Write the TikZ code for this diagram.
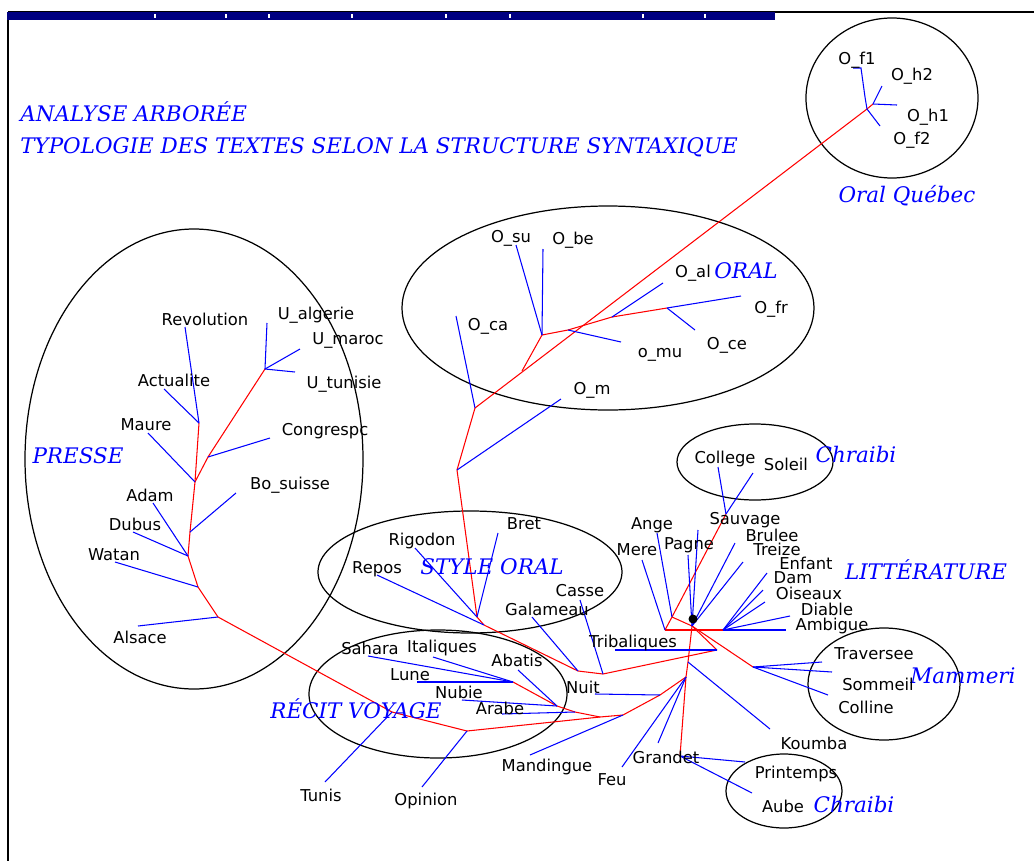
\documentclass[tikz,border=0pt]{standalone}
\usepackage{fontspec}
\setmainfont{DejaVu Sans}
\newfontfamily\grpfont{DejaVu Serif}
\definecolor{barblue}{RGB}{0,0,128}

\begin{document}
\begin{tikzpicture}[x=0.2mm,y=-0.2mm,
  lbl/.style={font=\fontsize{9.3}{11}\selectfont,inner sep=0pt},
  grp/.style={font=\grpfont\itshape\fontsize{12.2}{14}\selectfont,text=blue,inner sep=0pt},
  leaf/.style={blue,line width=0.6pt},
  trunk/.style={red,line width=0.6pt},
  zone/.style={black,line width=0.7pt}]
\useasboundingbox (0,0) rectangle (1034,861);

% frame and title bar
\draw[line width=1.2pt] (8,861) -- (8,12);
\draw[line width=0.8pt] (8,12) -- (1034,12);
\fill[barblue] (7,12) rectangle (775,20);
\foreach \t in {155,226,269,352,446,510,643,705}
  \draw[white,line width=0.8pt] (\t,14) -- (\t,18);

% groups
\draw[zone] (892,98) ellipse (86 and 80);
\draw[zone] (608,308) ellipse (206 and 102);
\draw[zone] (194,459) ellipse (169 and 230);
\draw[zone] (470,572) ellipse (152 and 61);
\draw[zone] (755,462) ellipse (78 and 38);
\draw[zone] (438,694) ellipse (129 and 64);
\draw[zone] (884,684) ellipse (76 and 56);
\draw[zone] (784,791) ellipse (58 and 37);

% inner points of the tree
\foreach \n/\x/\y in {qa/867/109, qb/873/104,
  oc/475/408, ox/522/371, os/542/335, om/568/330, oa/612/317, of/667/308, oo/457/470,
  so1/477/617, so2/484/625, sg/578/671, sc/603/674, tb/717/650,
  c1/726/514, ha/672/617, hm/665/630, hr/723/630, hc/692/626, mam/753/667,
  hk/688/662, hf/686/677, gr/680/756, nu/660/695, lm/623/715, rvj/600/717,
  ra/575/712, rv2/557/706, rv1/513/682, pv/553/722, op/467/731, tn/392/712,
  pa/218/617, pw/198/587, pd/188/556, pb/190/532, pm/195/482, pc/208/457,
  pu/265/369, pr/199/423}
  \coordinate (\n) at (\x,\y);

% leaf ends
\foreach \n/\x/\y in {ef1/853/68, eh2/882/86, eh1/897/105, ef2/880/126,
  eca/456/316, esu/516/245, ebe/543/249, emu/621/342, eal/663/283, efr/741/296,
  ece/695/330, em/561/399,
  ebr/498/533, erg/415/548, erp/377/575, ega/532/617, ecs/580/600, etr/615/650,
  ecl/718/467, eso/753/473, ean/657/533, eme/642/560, epa/688/555, esa/698/530,
  ebu/735/543, etz/743/562, een/767/573, eda/763/590, eoi/765/602, edi/790/616,
  eam/786/630, ett/822/662, esm/832/672, eco/828/695, eko/770/729, epr/745/762,
  eau/752/793, egr/658/743, efe/622/767, enu/595/694, ema/530/755,
  ear/502/714, enb/462/700, eab/518/670, esh/368/656, eit/433/657, elu/417/682,
  eop/422/787, etu/325/782,
  eas/138/626, ewa/115/562, ead/153/503, edu/133/532, ebo/236/493, emr/148/433,
  ecg/270/438, eug/267/323, eum/300/349, eut/295/372, erv/185/327, eac/164/389}
  \coordinate (\n) at (\x,\y);

% red branches
\foreach \a/\b in {qa/qb, qa/oc, os/ox, os/om, om/oa, oa/of, oc/oo, oo/so1,
  so1/so2, so2/sg, sg/sc, sc/tb, tb/hc, c1/ha, ha/hm, ha/hc, hm/hr, hc/mam,
  hc/hk, hk/hf, hf/gr, hf/nu, nu/lm, lm/rvj, rvj/ra, ra/rv2, rv2/rv1,
  rvj/pv, pv/op, op/tn, tn/pa, pa/pw, pw/pd, pd/pb, pb/pm, pm/pc, pc/pu, pm/pr}
  \draw[trunk] (\a) -- (\b);

% blue leaves
\draw[leaf] (qa) -- (865,97) -- (861,68) -- (ef1);
\foreach \a/\b in {qa/ef2, qb/eh2, qb/eh1,
  oc/eca, os/esu, os/ebe, om/emu, oa/eal, of/efr, of/ece, oo/em,
  so1/ebr, so1/erg, so2/erp, sg/ega, sc/ecs, tb/etr,
  c1/ecl, c1/eso, ha/ean, hm/eme, hc/epa, hc/esa, hc/ebu, hc/etz,
  hr/een, hr/eda, hr/eoi, hr/edi, hr/eam,
  mam/ett, mam/esm, mam/eco, hk/eko, gr/epr, gr/eau, hf/egr, hf/efe,
  nu/enu, lm/ema, ra/ear, rv2/enb, rv2/eab, rv1/esh, rv1/eit, rv1/elu,
  op/eop, tn/etu,
  pa/eas, pw/ewa, pd/ead, pd/edu, pb/ebo, pm/emr, pc/ecg, pu/eug, pu/eum,
  pu/eut, pr/erv, pr/eac}
  \draw[leaf] (\a) -- (\b);
\fill (693,619) circle (4.5);

% titles
\node[grp,anchor=west] (title1) at (20,112) {ANALYSE ARBORÉE};
\node[grp,anchor=west] (title2) at (20,147) {TYPOLOGIE DES TEXTES SELON LA STRUCTURE SYNTAXIQUE};

% group names
\node[grp] (quebec) at (907,196) {Oral Québec};
\node[grp] (oral) at (746,271) {ORAL};
\node[grp] (presse) at (78,456) {PRESSE};
\node[grp] (styleoral) at (492,567) {STYLE ORAL};
\node[grp] (recit) at (356,709) {RÉCIT VOYAGE};
\node[grp] (litt) at (926,570) {LITTÉRATURE};
\node[grp] (chraibi1) at (856,455) {Chraibi};
\node[grp] (mammeri) at (963,676) {Mammeri};
\node[grp] (chraibi2) at (854,804) {Chraibi};

% texts
\node[lbl] (Of1) at (857,60) {O\_f1};
\node[lbl] (Oh2) at (912,76) {O\_h2};
\node[lbl] (Oh1) at (928,117) {O\_h1};
\node[lbl] (Of2) at (912,140) {O\_f2};
\node[lbl] (Osu) at (511,238) {O\_su};
\node[lbl] (Obe) at (573,240) {O\_be};
\node[lbl] (Oal) at (693,273) {O\_al};
\node[lbl] (Ofr) at (771,309) {O\_fr};
\node[lbl] (Oca) at (488,326) {O\_ca};
\node[lbl] (omu) at (660,355) {o\_mu};
\node[lbl] (Oce) at (727,345) {O\_ce};
\node[lbl] (Om) at (592,390) {O\_m};
\node[lbl] (Revolution) at (205,319) {Revolution};
\node[lbl] (Ualgerie) at (316,315) {U\_algerie};
\node[lbl] (Umaroc) at (348,340) {U\_maroc};
\node[lbl] (Actualite) at (174,380) {Actualite};
\node[lbl] (Utunisie) at (344,384) {U\_tunisie};
\node[lbl] (Maure) at (146,425) {Maure};
\node[lbl] (Congrespc) at (325,431) {Congrespc};
\node[lbl] (Adam) at (150,495) {Adam};
\node[lbl] (Bosuisse) at (290,485) {Bo\_suisse};
\node[lbl] (Dubus) at (135,524) {Dubus};
\node[lbl] (Watan) at (114,555) {Watan};
\node[lbl] (Alsace) at (140,637) {Alsace};
\node[lbl] (Rigodon) at (422,541) {Rigodon};
\node[lbl] (Bret) at (524,524) {Bret};
\node[lbl] (Repos) at (377,569) {Repos};
\node[lbl] (Casse) at (580,591) {Casse};
\node[lbl] (Galameau) at (547,609) {Galameau};
\node[lbl] (Tribaliques) at (633,643) {Tribaliques};
\node[lbl] (College) at (725,459) {College};
\node[lbl] (Soleil) at (786,464) {Soleil};
\node[lbl] (Sauvage) at (745,520) {Sauvage};
\node[lbl] (Brulee) at (772,535) {Brulee};
\node[lbl] (Ange) at (652,525) {Ange};
\node[lbl] (Mere) at (637,550) {Mere};
\node[lbl] (Pagne) at (689,545) {Pagne};
\node[lbl] (Treize) at (777,549) {Treize};
\node[lbl] (Enfant) at (806,563) {Enfant};
\node[lbl] (Dam) at (793,578) {Dam};
\node[lbl] (Oiseaux) at (809,593) {Oiseaux};
\node[lbl] (Diable) at (827,609) {Diable};
\node[lbl] (Ambigue) at (832,626) {Ambigue};
\node[lbl] (Traversee) at (874,654) {Traversee};
\node[lbl] (Sommeil) at (878,684) {Sommeil};
\node[lbl] (Colline) at (866,707) {Colline};
\node[lbl] (Koumba) at (814,743) {Koumba};
\node[lbl] (Printemps) at (796,774) {Printemps};
\node[lbl] (Aube) at (783,806) {Aube};
\node[lbl] (Grandet) at (666,757) {Grandet};
\node[lbl] (Feu) at (612,780) {Feu};
\node[lbl] (Mandingue) at (547,767) {Mandingue};
\node[lbl] (Nuit) at (583,687) {Nuit};
\node[lbl] (Sahara) at (370,648) {Sahara};
\node[lbl] (Italiques) at (442,648) {Italiques};
\node[lbl] (Lune) at (410,675) {Lune};
\node[lbl] (Nubie) at (459,692) {Nubie};
\node[lbl] (Arabe) at (500,708) {Arabe};
\node[lbl] (Abatis) at (517,660) {Abatis};
\node[lbl] (Tunis) at (321,795) {Tunis};
\node[lbl] (Opinion) at (426,801) {Opinion};
\end{tikzpicture}
\end{document}
